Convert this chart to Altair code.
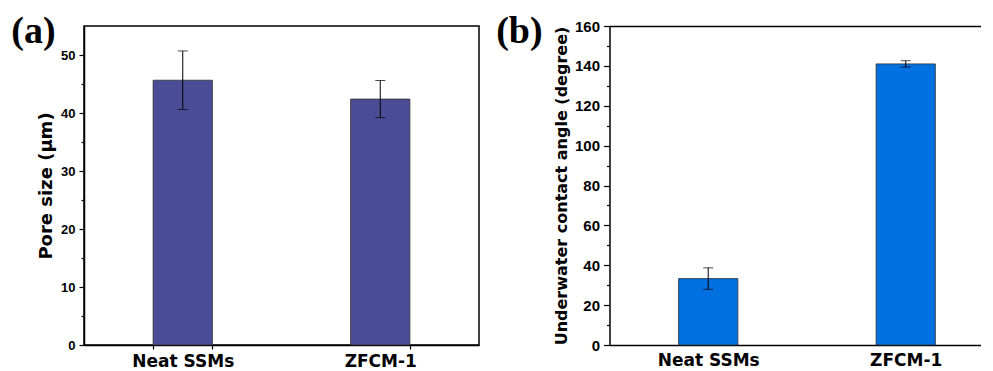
import altair as alt
import pandas as pd

categories = ["Neat SSMs", "ZFCM-1"]
pore_size = [45.65, 42.4]
pore_err = [5.05, 3.2]
angle = [33.3, 141.0]
angle_err = [5.4, 1.6]

y_ticks_a = list(range(0, 55, 5))
y_ticks_b = list(range(0, 170, 10))

df_a = pd.DataFrame({"cat": categories, "v": pore_size, "e": pore_err})
df_b = pd.DataFrame({"cat": categories, "v": angle, "e": angle_err})

LABEL_FONT = "Liberation Sans"
TITLE_FONT = "DejaVu Sans"


def panel(df, color, width, height, ydomain, yvals, major, ytitle,
          ylabel_size, ytitle_size, title_pad, xscale, letter, letter_dx,
          top_axis, major_len):
    base = alt.Chart(df).transform_calculate(
        lo="datum.v - datum.e", hi="datum.v + datum.e")
    xaxis = alt.Axis(title=None, labelAngle=0, labelFont=TITLE_FONT,
                     labelFontSize=17, labelFontWeight="bold",
                     labelColor="black", tickBand="extent",
                     tickSize=4 if not top_axis else 0,
                     ticks=not top_axis,
                     tickColor="black", tickWidth=1.2,
                     domainColor="black", domainWidth=1.5,
                     labelPadding=7 if top_axis else 4)
    yscale = alt.Scale(domain=ydomain, nice=False, zero=True)
    yaxis = alt.Axis(title=ytitle, values=yvals,
                     labelExpr=f"datum.value % {major} === 0 ? datum.label : ''",
                     tickSize={"condition": {"test": f"datum.value % {major} === 0",
                                             "value": major_len}, "value": 3},
                     labelFont=LABEL_FONT, labelFontSize=ylabel_size,
                     labelFontWeight="bold", labelColor="black",
                     labelPadding=4,
                     titleFont=TITLE_FONT, titleFontSize=ytitle_size,
                     titleFontWeight="bold", titleColor="black",
                     titlePadding=title_pad,
                     tickColor="black", tickWidth=1.2,
                     domainColor="black", domainWidth=1.5, grid=False)
    other_x_axis = None if top_axis else xaxis
    bars = base.mark_bar(color=color, stroke="#2e2e2e", strokeWidth=0.8).encode(
        x=alt.X("cat:N", sort=categories, scale=xscale, axis=xaxis),
        y=alt.Y("v:Q", scale=yscale, axis=yaxis),
    )
    rule = base.mark_rule(color="black", strokeWidth=1).encode(
        x=alt.X("cat:N", sort=categories, axis=other_x_axis),
        y=alt.Y("lo:Q", axis=yaxis),
        y2="hi:Q",
    )
    if top_axis:
        top_ax = alt.Axis(orient="top", labels=False, ticks=False, title=None,
                          domainColor="black", domainWidth=1.5)
    else:
        top_ax = xaxis
    tick_hi = base.mark_tick(color="black", size=10, thickness=1).encode(
        x=alt.X("cat:N", sort=categories, axis=top_ax),
        y=alt.Y("hi:Q", axis=yaxis),
    )
    tick_lo = base.mark_tick(color="black", size=10, thickness=1).encode(
        x=alt.X("cat:N", sort=categories, axis=other_x_axis),
        y=alt.Y("lo:Q", axis=yaxis),
    )
    label = alt.Chart(pd.DataFrame({"t": [letter]})).mark_text(
        font="Liberation Serif", fontSize=38, fontWeight="bold",
        align="left", baseline="alphabetic", color="black",
    ).encode(x=alt.value(letter_dx), y=alt.value(16.5), text="t:N")
    layer = alt.layer(bars, rule, tick_hi, tick_lo, label).properties(
        width=width, height=height)
    if top_axis:
        layer = layer.resolve_axis(x="independent")
    else:
        layer = layer.properties(view=alt.ViewBackground(stroke="black", strokeWidth=1.5))
    return layer


chart_a = panel(df_a, "#4a4c96", 395, 319, [0, 55], y_ticks_a, 10,
                "Pore size (\u03bcm)", 13, 18, 5,
                alt.Scale(paddingInner=0.7, paddingOuter=0.35),
                "(a)", -72.7, False, 5)

chart_b = panel(df_b, "#0170e0", 371, 319, [0, 160], y_ticks_b, 20,
                "Underwater contact angle (degree)", 15, 16, 5,
                alt.Scale(paddingInner=0.7, paddingOuter=0.28925, align=0.6048),
                "(b)", -113.3, True, 6)

chart = alt.hconcat(chart_a, chart_b, spacing=15.5).configure(
    padding={"left": 2, "top": 3, "right": 0, "bottom": 0},
    background="white",
).configure_view(stroke=None)

chart.save("out.html", embed_options={"renderer": "svg", "actions": False})
